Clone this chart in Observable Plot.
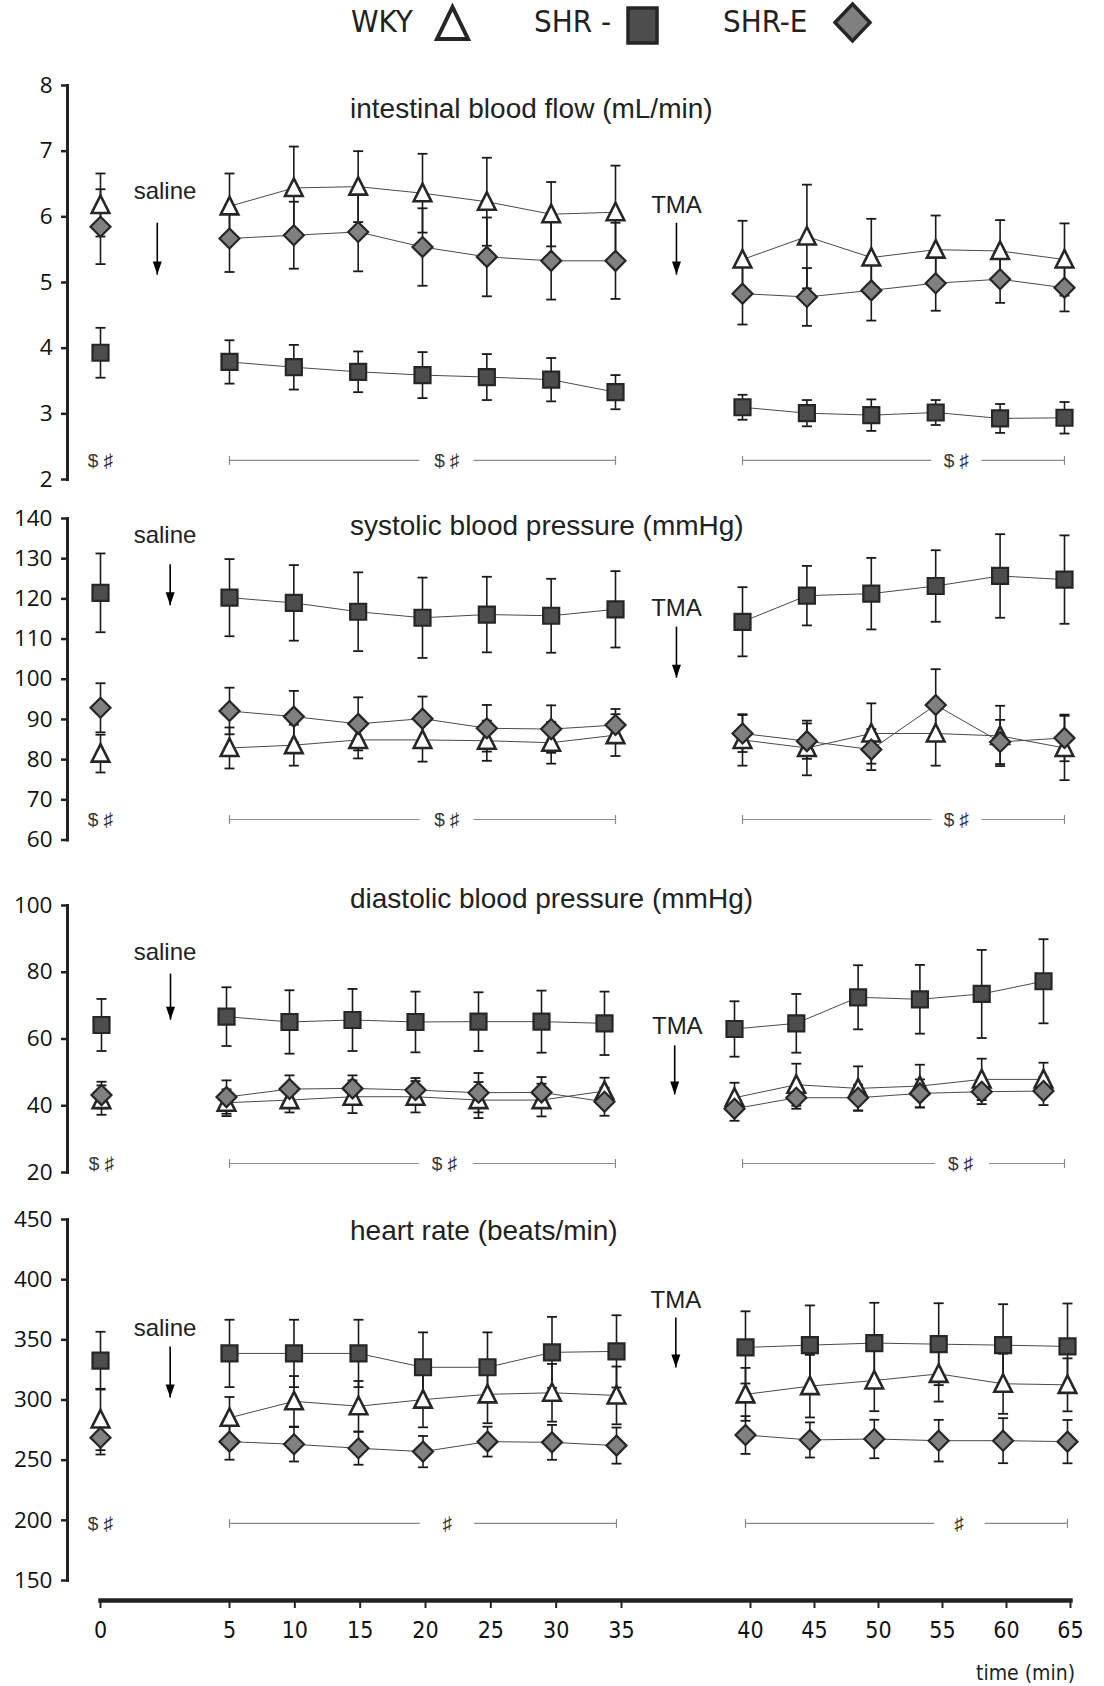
<!DOCTYPE html>
<html>
<head>
<meta charset="utf-8">
<script src="https://cdn.jsdelivr.net/npm/d3@7"></script>
<script src="https://cdn.jsdelivr.net/npm/@observablehq/plot@0.6"></script>
<style>
  body { margin: 0; background: #fff; }
  #root { position: relative; width: 1104px; height: 1686px; overflow: hidden; background: #fff; }
  #root > svg, #root > div.p { position: absolute; left: 0; }
  .title { position: absolute; left: 350px; font-family: "Liberation Sans", Arial, sans-serif; font-size: 28px; line-height: 28px; color: #222; white-space: nowrap; }
  .narrow { font-family: "Liberation Sans Narrow", "DejaVu Sans Condensed", "Arial Narrow", sans-serif; }
</style>
</head>
<body>
<div id="root"></div>
<script>
// ---------------- DATA ----------------
const times = [0, 5, 10, 15, 20, 25, 30, 35, 40, 45, 50, 55, 60, 65];
const groups = ["WKY", "SHR -", "SHR-E"];
const timeBreaks = [0, 5, 35, 40, 65];           // broken time axis segments

// intestinal blood flow (mL/min)
const ibfWKY   = [6.18, 6.16, 6.44, 6.46, 6.36, 6.23, 6.04, 6.07, 5.35, 5.70, 5.38, 5.50, 5.48, 5.35];
const ibfWKYe  = [0.48, 0.50, 0.63, 0.54, 0.60, 0.67, 0.49, 0.71, 0.59, 0.79, 0.59, 0.52, 0.47, 0.55];
const ibfSHR   = [3.93, 3.79, 3.71, 3.64, 3.59, 3.56, 3.52, 3.33, 3.10, 3.01, 2.98, 3.02, 2.93, 2.94];
const ibfSHRe  = [0.38, 0.33, 0.34, 0.31, 0.35, 0.35, 0.33, 0.26, 0.19, 0.20, 0.24, 0.19, 0.22, 0.24];
const ibfSHRE  = [5.85, 5.67, 5.72, 5.77, 5.54, 5.39, 5.33, 5.33, 4.83, 4.78, 4.88, 4.99, 5.05, 4.92];
const ibfSHREe = [0.57, 0.51, 0.51, 0.60, 0.59, 0.60, 0.59, 0.58, 0.47, 0.44, 0.46, 0.42, 0.36, 0.36];
const ibfTicks = [2, 3, 4, 5, 6, 7, 8];

// systolic blood pressure (mmHg)
const sbpWKY   = [81.5, 82.9, 83.6, 84.9, 84.9, 84.7, 84.2, 86.1, 84.9, 82.9, 86.5, 86.5, 85.9, 82.9];
const sbpWKYe  = [4.7, 5.1, 5.1, 4.6, 5.4, 5.0, 5.2, 5.2, 6.4, 6.8, 7.5, 8.0, 7.5, 8.0];
const sbpSHR   = [121.5, 120.3, 119.0, 116.8, 115.3, 116.1, 115.8, 117.4, 114.3, 120.8, 121.3, 123.2, 125.7, 124.8];
const sbpSHRe  = [9.8, 9.6, 9.4, 9.8, 10.0, 9.4, 9.2, 9.5, 8.6, 7.4, 8.9, 8.9, 10.4, 11.0];
const sbpSHRE  = [92.9, 92.1, 90.7, 88.9, 90.2, 87.8, 87.6, 88.6, 86.5, 84.6, 82.5, 93.6, 84.4, 85.4];
const sbpSHREe = [6.1, 5.8, 6.4, 6.6, 5.5, 5.8, 5.9, 4.0, 4.6, 4.4, 5.1, 8.9, 5.5, 5.8];
const sbpTicks = [60, 70, 80, 90, 100, 110, 120, 130, 140];

// diastolic blood pressure (mmHg)
const dbpWKY   = [41.7, 40.9, 41.7, 42.7, 42.7, 41.7, 41.7, 44.4, 42.4, 46.3, 45.2, 45.9, 47.9, 47.9];
const dbpWKYe  = [4.4, 4.0, 3.7, 4.9, 4.7, 5.4, 4.9, 4.0, 4.5, 6.3, 6.6, 6.4, 6.2, 5.0];
const dbpSHR   = [64.2, 66.7, 65.1, 65.7, 65.1, 65.2, 65.2, 64.7, 63.0, 64.7, 72.5, 71.9, 73.5, 77.3];
const dbpSHRe  = [7.8, 8.8, 9.5, 9.3, 9.1, 8.8, 9.3, 9.5, 8.3, 8.8, 9.6, 10.3, 13.2, 12.6];
const dbpSHRE  = [43.2, 42.6, 45.0, 45.2, 44.7, 43.9, 44.0, 41.2, 39.1, 42.4, 42.4, 43.7, 44.2, 44.4];
const dbpSHREe = [4.0, 5.0, 4.1, 3.9, 3.6, 5.9, 4.6, 4.2, 3.6, 3.3, 3.9, 4.2, 3.7, 4.2];
const dbpTicks = [20, 40, 60, 80, 100];

// heart rate (beats/min)
const hrWKY   = [283.8, 285.2, 298.9, 294.8, 300.3, 304.7, 306.0, 303.8, 304.7, 311.5, 316.2, 321.7, 313.5, 312.6];
const hrWKYe  = [25.5, 17.3, 21, 21, 23, 24, 24, 24, 22, 26, 25.5, 23, 25, 22];
const hrSHR   = [332.7, 338.7, 338.7, 338.7, 327.2, 327.2, 339.6, 340.4, 343.7, 345.6, 347.3, 346.4, 345.6, 344.5];
const hrSHRe  = [24, 28, 28, 28, 29, 29, 29.5, 30, 30, 33, 33.5, 34, 34, 35.7];
const hrSHRE  = [268.7, 265.4, 263.2, 259.9, 257.1, 265.4, 264.8, 262.1, 270.9, 266.8, 267.6, 266.2, 266.2, 265.4];
const hrSHREe = [14, 15, 14.3, 13.7, 13, 12.4, 14.5, 15, 15.7, 14.6, 16, 17.3, 18.7, 18];
const hrTicks = [150, 200, 250, 300, 350, 400, 450];

// titles and annotations
const titles = ["intestinal blood flow (mL/min)", "systolic blood pressure (mmHg)", "diastolic blood pressure (mmHg)", "heart rate (beats/min)"];
const sigLabels = ["$ \u266F", "$ \u266F", "$ \u266F", "\u266F"];
const baseSig = ["$ \u266F", "$ \u266F", "$ \u266F", "$ \u266F"];
const sigLevel = [2.29, 65.1, 22.7, 197.4];
// bracket segments / end caps / label positions (in each panel's own time scale)
const bracketSegsStd = [[5, 19.8], [24.0, 35], [40, 54.7], [58.6, 65]];
const bracketEndsStd = [5, 35, 40, 65];
const bracketTextStd = [21.9, 56.6];
const bracketSegsDbp = [[5.24, 20.3], [24.6, 35.42], [40.65, 56.26], [60.63, 66.7]];
const bracketEndsDbp = [5.24, 35.42, 40.65, 66.7];
const bracketTextDbp = [22.3, 58.3];
const salineText = [[2.5, 6.39], [2.5, 135.8], [2.54, 85.9], [2.5, 359.7]];
const salineArrow = [[2.2, 5.91, 5.12], [2.7, 128.6, 118.4], [2.76, 79.6, 65.8], [2.7, 344.5, 302]];
const tmaText = [[37.4, 6.17], [37.4, 117.6], [37.8, 63.9], [37.3, 383]];
const tmaArrow = [[37.4, 5.91, 5.12], [37.4, 113.1, 100.4], [37.7, 58.1, 43.4], [37.3, 368.6, 327]];

// ---------------- LAYOUT / STYLE ----------------
const layout = [
  {top: 60,   height: 440, yTop: 85,  yBottom: 479, domain: [2, 8],     ticks: ibfTicks, xr: [100, 229, 615, 742, 1064], titleY: 109},
  {top: 500,  height: 360, yTop: 518, yBottom: 839.5, domain: [60, 140], ticks: sbpTicks, xr: [100, 229, 615, 742, 1064], titleY: 526},
  {top: 870,  height: 320, yTop: 905, yBottom: 1172, domain: [20, 100],  ticks: dbpTicks, xr: [101, 226, 604, 734, 1043], titleY: 899},
  {top: 1195, height: 400, yTop: 1219, yBottom: 1580, domain: [150, 450], ticks: hrTicks, xr: [100, 229, 616, 745, 1067], titleY: 1231}
];
const panelData = [
  [[ibfWKY, ibfWKYe], [ibfSHR, ibfSHRe], [ibfSHRE, ibfSHREe]],
  [[sbpWKY, sbpWKYe], [sbpSHR, sbpSHRe], [sbpSHRE, sbpSHREe]],
  [[dbpWKY, dbpWKYe], [dbpSHR, dbpSHRe], [dbpSHRE, dbpSHREe]],
  [[hrWKY, hrWKYe], [hrSHR, hrSHRe], [hrSHRE, hrSHREe]]
];
const panelBrackets = [
  [bracketSegsStd, bracketEndsStd, bracketTextStd],
  [bracketSegsStd, bracketEndsStd, bracketTextStd],
  [bracketSegsDbp, bracketEndsDbp, bracketTextDbp],
  [bracketSegsStd, bracketEndsStd, bracketTextStd]
];

const triSym = {draw(c) { c.moveTo(0, -9.5); c.lineTo(8.8, 8); c.lineTo(-8.8, 8); c.closePath(); }};
const sqSym = {draw(c) { c.rect(-8, -8, 16, 16); }};
const diaSym = {draw(c) { c.moveTo(0, -10); c.lineTo(10, 0); c.lineTo(0, 10); c.lineTo(-10, 0); c.closePath(); }};
const capSym = {draw(c) { c.moveTo(-5, 0); c.lineTo(5, 0); }};
const vcapSym = {draw(c) { c.moveTo(0, -4.5); c.lineTo(0, 4.5); }};
const headSym = {draw(c) { c.moveTo(0, 0); c.lineTo(-4.5, -13); c.lineTo(4.5, -13); c.closePath(); }};
const styles = {
  "WKY":   {symbol: triSym, fill: "#ffffff", stroke: "#262626", sw: 2.6},
  "SHR -": {symbol: sqSym,  fill: "#4d4d4d", stroke: "#262626", sw: 2.2},
  "SHR-E": {symbol: diaSym, fill: "#808080", stroke: "#262626", sw: 2.2}
};
const tickFont = "'Open Sans', Lato, sans-serif";
const textFont = "'Liberation Sans', Arial, sans-serif";

const root = document.getElementById("root");

layout.forEach((L, pi) => {
  const rows = [];
  groups.forEach((g, gi) => {
    const [m, e] = panelData[pi][gi];
    times.forEach((t, i) => rows.push({g, t, v: m[i], e: e[i], phase: t === 0 ? 0 : (t <= 35 ? 1 : 2)}));
  });
  const lvl = sigLevel[pi];
  const [bSegs, bEnds, bText] = panelBrackets[pi];
  const segs = bSegs.map(([a, b]) => ({a, b, v: lvl}));
  const ends = bEnds.map(t => ({t, v: lvl}));
  const btext = bText.map(t => ({t, v: lvl, s: sigLabels[pi]}));
  const marks = [
    Plot.frame({anchor: "left", stroke: "#222", strokeWidth: 3}),
    Plot.axisY({ticks: L.ticks, tickSize: 6, tickPadding: 9, tickFormat: d => String(d), fontSize: 22.5,
                fontFamily: tickFont, stroke: "#222", strokeWidth: 2.5, fill: "#111", label: null}),
    Plot.line(rows, {x: "t", y: "v", z: d => d.g + d.phase, stroke: "#4a4a4a", strokeWidth: 1})
  ];
  groups.forEach(g => {
    const sub = rows.filter(d => d.g === g);
    marks.push(
      Plot.ruleX(sub, {x: "t", y1: d => d.v - d.e, y2: d => d.v + d.e, stroke: "#1a1a1a", strokeWidth: 1.6}),
      Plot.dot(sub, {x: "t", y: d => d.v + d.e, symbol: capSym, r: 5, fill: "none", stroke: "#1a1a1a", strokeWidth: 1.8}),
      Plot.dot(sub, {x: "t", y: d => d.v - d.e, symbol: capSym, r: 5, fill: "none", stroke: "#1a1a1a", strokeWidth: 1.8})
    );
  });
  groups.forEach(g => {
    const sub = rows.filter(d => d.g === g);
    const st = styles[g];
    marks.push(Plot.dot(sub, {x: "t", y: "v", symbol: st.symbol, r: 8, fill: st.fill, stroke: st.stroke, strokeWidth: st.sw}));
  });
  // significance brackets
  marks.push(
    Plot.ruleY(segs, {y: "v", x1: "a", x2: "b", stroke: "#8a8a8a", strokeWidth: 1.2}),
    Plot.dot(ends, {x: "t", y: "v", symbol: vcapSym, r: 4, fill: "none", stroke: "#8a8a8a", strokeWidth: 1.2}),
    Plot.text(btext, {x: "t", y: "v", text: "s", fontSize: 19, fontFamily: textFont, fill: "#333"}),
    Plot.text([{t: 0, v: lvl, s: baseSig[pi]}], {x: "t", y: "v", text: "s", fontSize: 19, fontFamily: textFont, fill: "#333"})
  );
  // saline / TMA annotations
  const sal = [{t: salineText[pi][0], v: salineText[pi][1], s: "saline"}, {t: tmaText[pi][0], v: tmaText[pi][1], s: "TMA"}];
  const arr = [salineArrow[pi], tmaArrow[pi]].map(([t, y1, y2]) => ({t, y1, y2}));
  marks.push(
    Plot.text(sal, {x: "t", y: "v", text: "s", fontSize: 24, fontFamily: textFont, fill: "#222"}),
    Plot.link(arr, {x1: "t", x2: "t", y1: "y1", y2: "y2", stroke: "#000", strokeWidth: 1.6}),
    Plot.dot(arr, {x: "t", y: "y2", symbol: headSym, r: 5, fill: "#000", stroke: "none"})
  );

  const svg = Plot.plot({
    width: 1104, height: L.height,
    marginLeft: 67, marginRight: 0,
    marginTop: L.yTop - L.top, marginBottom: L.top + L.height - L.yBottom,
    x: {type: "linear", domain: timeBreaks, range: L.xr, axis: null},
    y: {domain: L.domain, axis: null},
    style: {background: "transparent", overflow: "visible"},
    marks
  });
  svg.style.top = L.top + "px";
  root.appendChild(svg);

  const t = document.createElement("div");
  t.className = "title";
  t.textContent = titles[pi];
  t.style.top = (L.titleY - 14) + "px";
  root.appendChild(t);
});

// bottom time axis
const xAxis = Plot.plot({
  width: 1104, height: 126,
  marginLeft: 100, marginRight: 34, marginTop: 10, marginBottom: 86,
  x: {type: "linear", domain: timeBreaks, range: [100, 229, 621, 750, 1070], axis: null},
  style: {background: "transparent", overflow: "visible"},
  marks: [
    Plot.frame({anchor: "bottom", stroke: "#222", strokeWidth: 4.5}),
    Plot.axisX({ticks: times, tickSize: 8, tickPadding: 13, tickFormat: d => String(d), anchor: "bottom",
                fontSize: 23, fontFamily: "'Liberation Sans Narrow', 'DejaVu Sans Condensed', sans-serif",
                stroke: "#222", strokeWidth: 2, fill: "#111", label: null})
  ]
});
xAxis.style.top = "1560px";
root.appendChild(xAxis);

const tl = document.createElement("div");
tl.className = "narrow";
tl.textContent = "time (min)";
Object.assign(tl.style, {position: "absolute", left: "976px", top: "1660px", fontSize: "21px", color: "#222", lineHeight: "26px"});
root.appendChild(tl);

// legend
const legendNS = "http://www.w3.org/2000/svg";
const leg = document.createElementNS(legendNS, "svg");
leg.setAttribute("width", 1104); leg.setAttribute("height", 60);
leg.style.position = "absolute"; leg.style.top = "0px"; leg.style.left = "0px";
leg.innerHTML = `
  <g font-family="'Liberation Sans Narrow','DejaVu Sans Condensed',sans-serif" font-size="31" fill="#222">
    <text x="351" y="32">${groups[0]}</text>
    <text x="534" y="32">${groups[1]}</text>
    <text x="723" y="32">${groups[2]}</text>
  </g>
  <polygon points="452.5,7 468,39 437,39" fill="#fff" stroke="#262626" stroke-width="4"/>
  <rect x="628" y="8" width="29" height="35" fill="#4d4d4d" stroke="#262626" stroke-width="3.5"/>
  <polygon points="852.5,4 870,22.5 852.5,41 835,22.5" fill="#808080" stroke="#262626" stroke-width="3.5"/>
`;
root.appendChild(leg);
</script>
</body>
</html>
